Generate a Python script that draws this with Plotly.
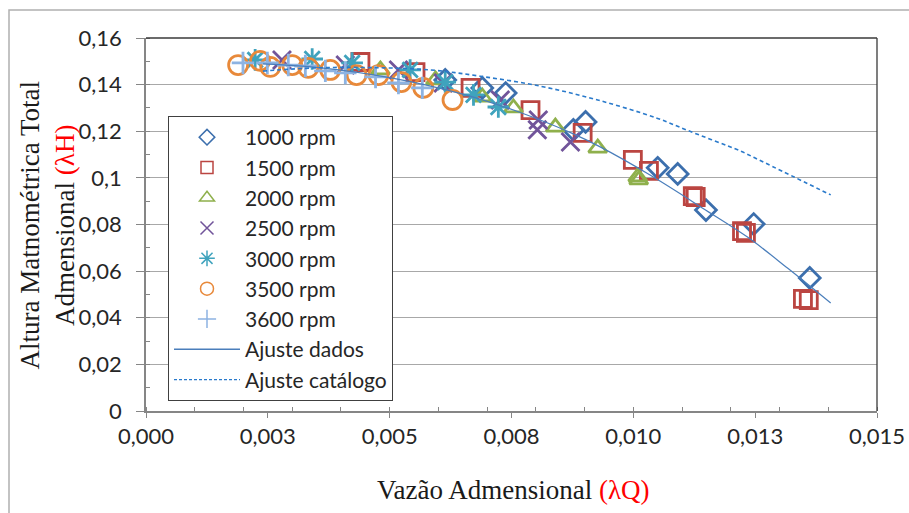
import plotly.graph_objects as go

# ---------------- data ----------------
x_1000 = [0.00614, 0.00690, 0.00738, 0.00877, 0.00902, 0.01050, 0.01091, 0.01149, 0.01247, 0.01362]
y_1000 = [0.1420, 0.1386, 0.1364, 0.1206, 0.1240, 0.1043, 0.1017, 0.0862, 0.0802, 0.0571]

x_1500 = [0.00440, 0.00553, 0.00666, 0.00789, 0.00896, 0.00999, 0.01032, 0.01122, 0.01128, 0.01223, 0.01231, 0.01348, 0.01360]
y_1500 = [0.1497, 0.1454, 0.1386, 0.1291, 0.1193, 0.1077, 0.1030, 0.0922, 0.0918, 0.0772, 0.0764, 0.0481, 0.0476]

x_2000 = [0.00481, 0.00594, 0.00690, 0.00754, 0.00840, 0.00927, 0.01009, 0.01011]
y_2000 = [0.1463, 0.1420, 0.1347, 0.1300, 0.1218, 0.1128, 0.1004, 0.0991]

x_2500 = [0.00279, 0.00409, 0.00518, 0.00610, 0.00727, 0.00805, 0.00803, 0.00871]
y_2500 = [0.1506, 0.1484, 0.1463, 0.1407, 0.1334, 0.1248, 0.1206, 0.1154]

x_3000 = [0.00224, 0.00341, 0.00423, 0.00542, 0.00614, 0.00672, 0.00723]
y_3000 = [0.1506, 0.1510, 0.1493, 0.1463, 0.1411, 0.1356, 0.1304]

x_3500 = [0.00189, 0.00234, 0.00255, 0.00300, 0.00333, 0.00378, 0.00432, 0.00477, 0.00524, 0.00569, 0.00629]
y_3500 = [0.1484, 0.1502, 0.1476, 0.1484, 0.1472, 0.1463, 0.1441, 0.1441, 0.1411, 0.1386, 0.1334]

x_3600 = [0.00199, 0.00249, 0.00292, 0.00327, 0.00368, 0.00409, 0.00471, 0.00518, 0.00567]
y_3600 = [0.1493, 0.1493, 0.1484, 0.1480, 0.1459, 0.1450, 0.1433, 0.1407, 0.1386]

fit_dados_x = [0.00240, 0.00350, 0.00500, 0.00650, 0.00775, 0.00870, 0.00930, 0.01036, 0.01144, 0.01235, 0.01317, 0.01405]
fit_dados_y = [0.1489, 0.1474, 0.1430, 0.1359, 0.1275, 0.1195, 0.1135, 0.1010, 0.0868, 0.0745, 0.0612, 0.0463]

fit_cat_x = [0.00240, 0.00350, 0.00460, 0.00584, 0.00686, 0.00810, 0.00927, 0.01050, 0.01112, 0.01220, 0.01248, 0.01405]
fit_cat_y = [0.1458, 0.1472, 0.1473, 0.1463, 0.1436, 0.1393, 0.1334, 0.1255, 0.1203, 0.1115, 0.1087, 0.0927]

series_names = ["1000 rpm", "1500 rpm", "2000 rpm", "2500 rpm", "3000 rpm", "3500 rpm", "3600 rpm"]
fit_names = ["Ajuste dados", "Ajuste catálogo"]

x_tickvals = [0, 0.0025, 0.005, 0.0075, 0.01, 0.0125, 0.015]
x_ticktext = ["0,000", "0,003", "0,005", "0,008", "0,010", "0,013", "0,015"]
y_tickvals = [0, 0.02, 0.04, 0.06, 0.08, 0.10, 0.12, 0.14, 0.16]
y_ticktext = ["0", "0,02", "0,04", "0,06", "0,08", "0,1", "0,12", "0,14", "0,16"]

# ---------------- styling ----------------
W, H = 909, 513
L, R, T, B = 146, 32, 38, 102
pw, ph = W - L - R, H - T - B

xs = [x_1000, x_1500, x_2000, x_2500, x_3000, x_3500, x_3600]
ys = [y_1000, y_1500, y_2000, y_2500, y_3000, y_3500, y_3600]
colors = ["#3c6fad", "#bb4541", "#8fb04c", "#71549a", "#3fa3bd", "#e8893a", "#8db3e2"]
symbols = ["diamond-open", "square-open", "triangle-up-open", "x-thin-open",
           "asterisk-open", "circle-open", "cross-thin-open"]
sizes = [16, 17, 16, 18, 18, 19, 16]
legend_sizes = [12, 12, 13, 13, 13, 13, 13]

fig = go.Figure()
for xv, yv, nm, c, s, sz in zip(xs, ys, series_names, colors, symbols, sizes):
    fig.add_trace(go.Scatter(
        x=xv, y=yv, name=nm, mode="markers", showlegend=False, legendgroup=nm,
        marker=dict(symbol=s, size=sz, color=c, line=dict(color=c, width=2.8)),
    ))

dados_style = dict(color="#4a7ebb", width=1.2, shape="spline")
cat_style = dict(color="#2a7acb", width=1.6, dash="4px,3px", shape="spline")
fig.add_trace(go.Scatter(x=fit_dados_x, y=fit_dados_y, name=fit_names[0], mode="lines",
                         showlegend=False, legendgroup=fit_names[0], line=dados_style))
fig.add_trace(go.Scatter(x=fit_cat_x, y=fit_cat_y, name=fit_names[1], mode="lines",
                         showlegend=False, legendgroup=fit_names[1], line=cat_style))

# legend entries (smaller symbols, as in the original legend)
for nm, c, s, ls in zip(series_names, colors, symbols, legend_sizes):
    fig.add_trace(go.Scatter(
        x=[None], y=[None], name=nm, mode="markers", legendgroup=nm,
        marker=dict(symbol=s, size=ls, color=c, line=dict(color=c, width=1.5)),
    ))
fig.add_trace(go.Scatter(x=[None], y=[None], name=fit_names[0], mode="lines",
                         legendgroup=fit_names[0], line=dict(color="#4a7ebb", width=1.3)))
fig.add_trace(go.Scatter(x=[None], y=[None], name=fit_names[1], mode="lines",
                         legendgroup=fit_names[1], line=dict(color="#2a7acb", width=1.3, dash="3px,2px")))

tickfont = dict(family="Lato", size=22, color="#262626")
fig.update_xaxes(
    range=[0, 0.015], tickmode="array", tickvals=x_tickvals, ticktext=x_ticktext,
    showgrid=False, zeroline=False, showline=True, linecolor="#868686", linewidth=1.5,
    ticks="outside", ticklen=5, tickcolor="#868686", tickwidth=1.2, tickfont=tickfont,
    minor=dict(tickmode="linear", tick0=0, dtick=0.001, ticks="inside", ticklen=4,
               tickcolor="#868686", showgrid=False),
)
fig.update_yaxes(
    range=[0, 0.16], tickmode="array", tickvals=y_tickvals, ticktext=y_ticktext,
    showgrid=True, gridcolor="#a8a8a8", gridwidth=1.2, zeroline=False,
    showline=True, linecolor="#868686", linewidth=1.5,
    ticks="outside", ticklen=8, tickcolor="#868686", tickwidth=1.2, tickfont=tickfont,
    ticklabelstandoff=10,
    minor=dict(tickmode="linear", tick0=0, dtick=0.01, ticks="inside", ticklen=4,
               tickcolor="#868686", showgrid=False),
)

def px_x(p):
    return (p - L) / pw

def px_y(p):
    return (H - B - p) / ph

fig.update_layout(
    width=W, height=H, margin=dict(l=L, r=R, t=T, b=B, autoexpand=False),
    paper_bgcolor="white", plot_bgcolor="white",
    showlegend=True,
    legend=dict(x=px_x(168), y=px_y(116), xanchor="left", yanchor="top",
                bgcolor="white", bordercolor="#404040", borderwidth=1,
                font=dict(family="Lato", size=21, color="#262626"),
                itemsizing="trace", itemwidth=66, tracegroupgap=0,
                itemclick=False, itemdoubleclick=False),
    shapes=[
        dict(type="rect", xref="paper", yref="paper", x0=px_x(9), x1=px_x(930),
             y0=px_y(530), y1=px_y(10), line=dict(color="#b0b0b0", width=1.5), layer="below"),
        dict(type="line", xref="paper", yref="paper", x0=0, x1=1, y0=1, y1=1,
             line=dict(color="#3a3a3a", width=1.3)),
        dict(type="line", xref="paper", yref="paper", x0=1, x1=1, y0=0, y1=1,
             line=dict(color="#3a3a3a", width=1.3)),
    ],
    annotations=[
        dict(xref="paper", yref="paper", x=px_x(513), y=px_y(490), xanchor="center", yanchor="middle",
             showarrow=False,
             text="Vazão Admensional <span style='color:#ff0000'>(λQ)</span>",
             font=dict(family="Liberation Serif", size=27, color="#1a1a1a")),
        dict(xref="paper", yref="paper", x=px_x(47), y=0.5, xanchor="center", yanchor="middle",
             showarrow=False, textangle=-90,
             text="Altura Matnométrica Total<br>Admensional <span style='color:#ff0000'>(λH)</span>",
             font=dict(family="Liberation Serif", size=27, color="#1a1a1a")),
    ],
)

fig.write_html("out.html")
